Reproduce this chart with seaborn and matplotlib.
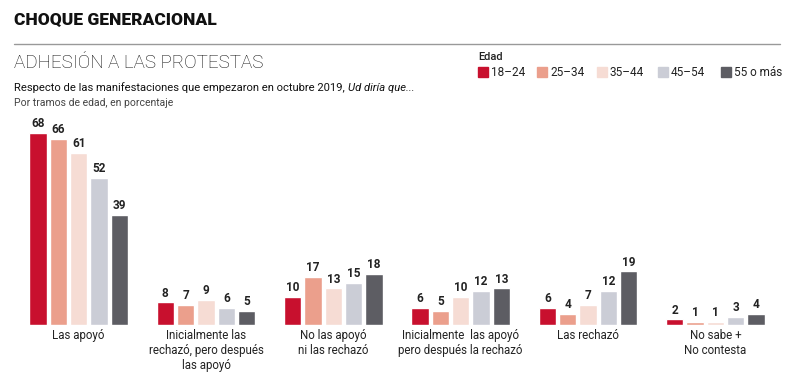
import pandas as pd
import matplotlib.pyplot as plt
import seaborn as sns

categorias = ["Las apoyó",
              "Inicialmente las\nrechazó, pero después\nlas apoyó",
              "No las apoyó\nni las rechazó",
              "Inicialmente  las apoyó\npero después la rechazó",
              "Las rechazó",
              "No sabe +\nNo contesta"]
edades = ["18-24", "25-34", "35-44", "45-54", "55 o más"]
v_18_24 = [68, 8, 10, 6, 6, 2]
v_25_34 = [66, 7, 17, 5, 4, 1]
v_35_44 = [61, 9, 13, 10, 7, 1]
v_45_54 = [52, 6, 15, 12, 12, 3]
v_55 = [39, 5, 18, 13, 19, 4]
colores = ["#c8102e", "#eb9f8c", "#f6dcd4", "#cbcdd6", "#5d5d63"]

rows = []
for edad, vals in zip(edades, [v_18_24, v_25_34, v_35_44, v_45_54, v_55]):
    for cat, v in zip(categorias, vals):
        rows.append({"cat": cat, "edad": edad, "valor": v})
df = pd.DataFrame(rows)

sns.set_theme(style="white")
plt.rcParams['font.family'] = ['Roboto', 'DejaVu Sans']

fig = plt.figure(figsize=(8, 3.84), dpi=100)
ax = fig.add_axes([15 / 800, 1 - 325 / 384, 764 / 800, 205 / 384])

sns.barplot(data=df, x="cat", y="valor", hue="edad", order=categorias,
            hue_order=edades, palette=colores, width=0.8, gap=0.15,
            saturation=1, legend=False, ax=ax)

for cont in ax.containers:
    ax.bar_label(cont, fmt="%d", padding=2, fontsize=8.5, fontweight="bold",
                 color="#222222")

ax.set_xlim(-0.5, 5.5)
ax.set_ylim(0, 72.6)
ax.set_xlabel("")
ax.set_ylabel("")
ax.set_yticks([])
ax.tick_params(axis="x", length=0, pad=3, labelsize=8.3, colors="#222222")
for s in ax.spines.values():
    s.set_visible(False)

# cabecera
fig.text(14 / 800, 1 - 20 / 384, "CHOQUE GENERACIONAL", fontsize=12.5,
         fontweight="heavy", va="center", ha="left", color="#111111")
fig.add_artist(plt.Line2D([14 / 800, 780 / 800], [1 - 44 / 384] * 2,
                          color="#999999", lw=1))
fig.text(14 / 800, 1 - 63 / 384, "ADHESIÓN A LAS PROTESTAS", fontsize=13.5,
         fontweight="light", va="center", ha="left", color="#111111")
t1 = fig.text(14 / 800, 1 - 88 / 384,
              "Respecto de las manifestaciones que empezaron en octubre 2019, ",
              fontsize=8.1, va="center", ha="left", color="#111111")
fig.canvas.draw()
bb = t1.get_window_extent()
fig.text(bb.x1 / 800, 1 - 88 / 384, "Ud diría que...", fontsize=8.1,
         style="italic", va="center", ha="left", color="#111111")
fig.text(14 / 800, 1 - 103 / 384, "Por tramos de edad, en porcentaje",
         fontsize=7.5, va="center", ha="left", color="#444444")

# leyenda
fig.text(478 / 800, 1 - 57 / 384, "Edad", fontsize=8, fontweight="medium",
         va="center", ha="left", color="#222222")
xs = [478, 537, 597, 658, 721]
for x, lab, c in zip(xs, edades, colores):
    fig.add_artist(plt.Rectangle((x / 800, 1 - 77 / 384), 10 / 800, 10 / 384,
                                 color=c, transform=fig.transFigure))
    fig.text((x + 13) / 800, 1 - 72 / 384, lab.replace("-", "–"), fontsize=8.5,
             va="center", ha="left", color="#222222")

fig.savefig("out.png", dpi=100)
